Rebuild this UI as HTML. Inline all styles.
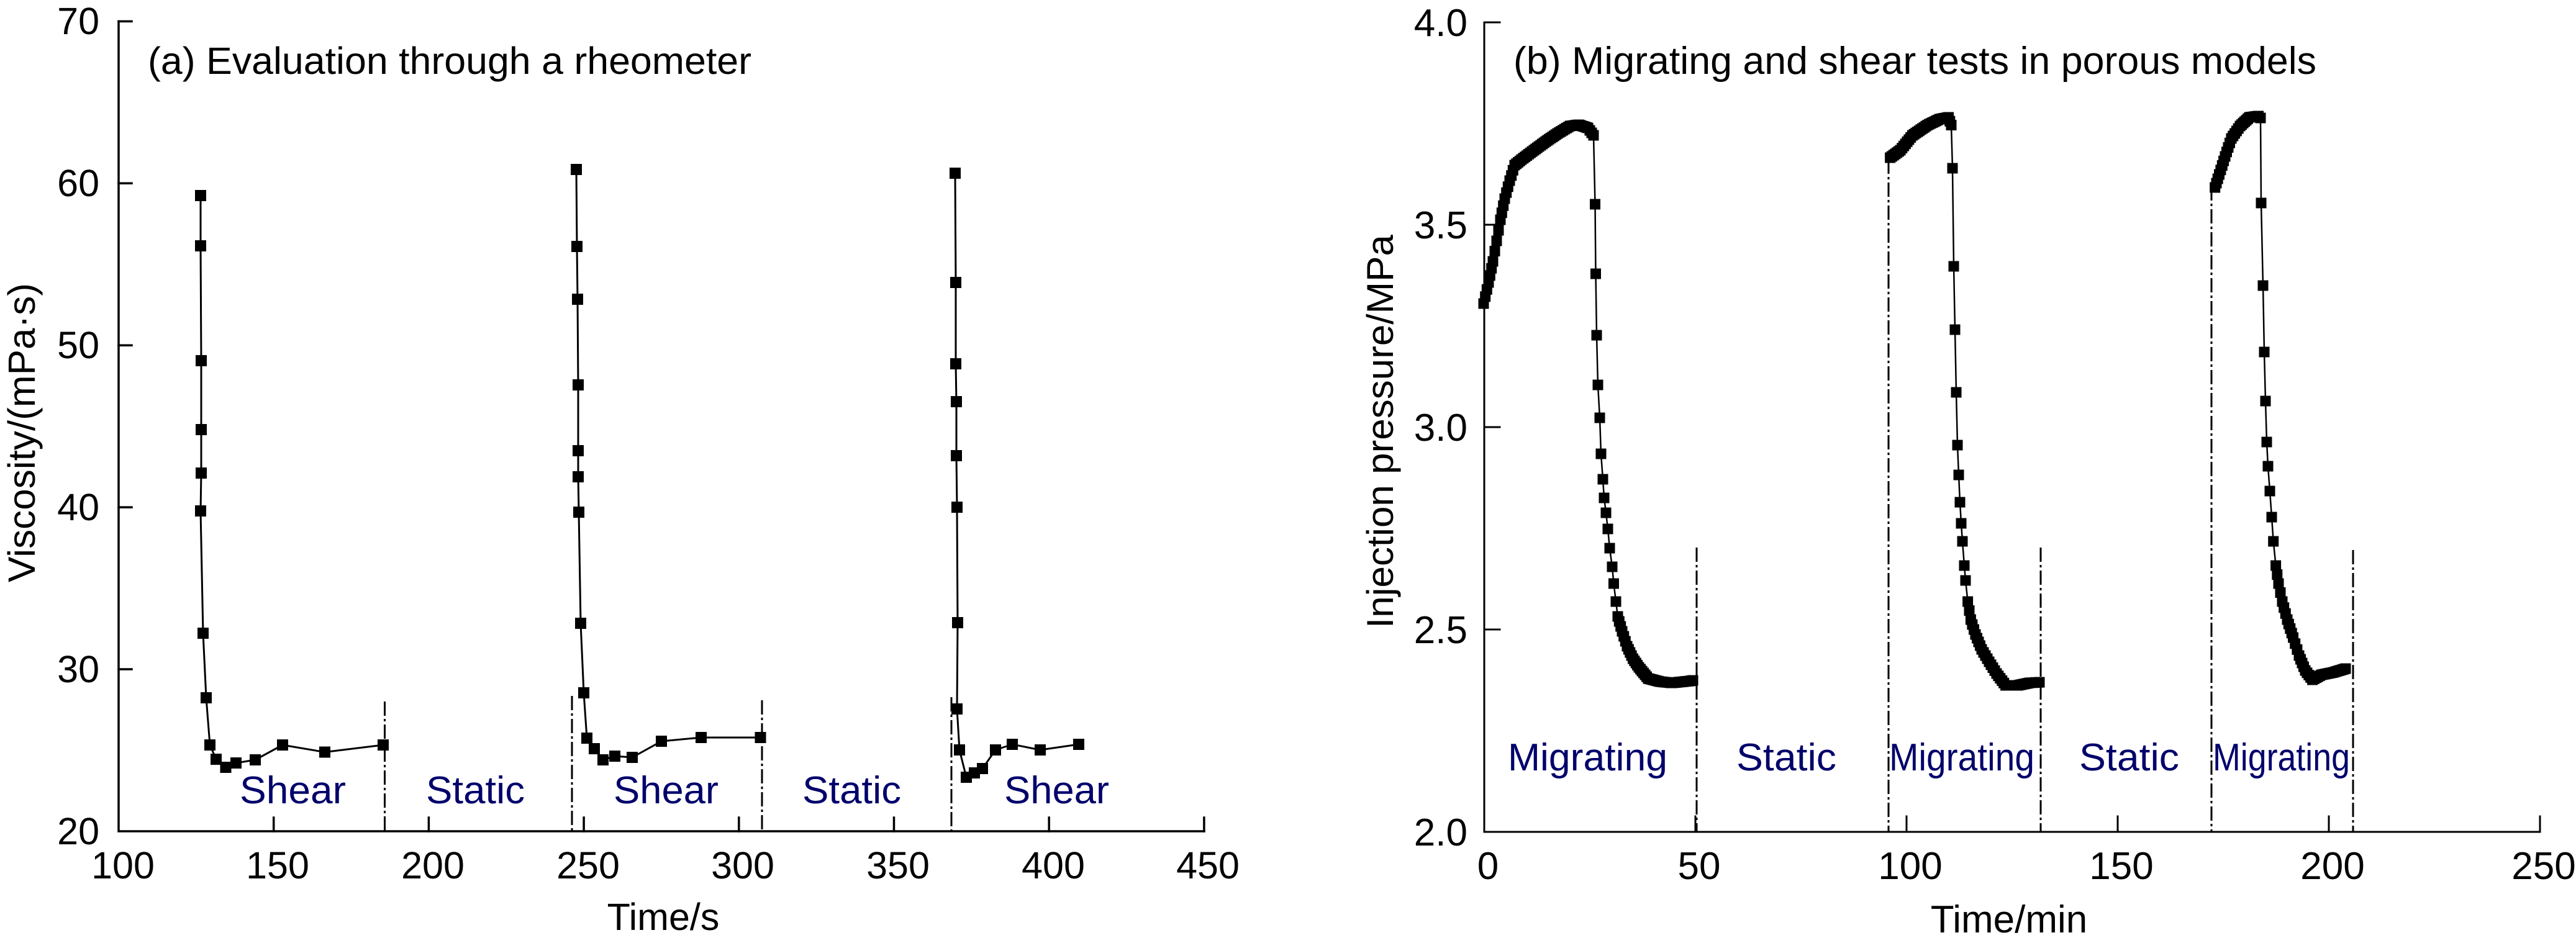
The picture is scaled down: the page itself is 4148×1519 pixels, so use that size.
<!DOCTYPE html>
<html><head><meta charset="utf-8">
<style>
html,body{margin:0;padding:0;background:#fff;overflow:hidden;}
svg{display:block;}
text{font-family:"Liberation Sans",Arial,sans-serif;fill:#000;}
.lb{fill:#00006b;}
</style></head><body>
<svg id="s" width="4148" height="1519" viewBox="0 0 4148 1519" xmlns="http://www.w3.org/2000/svg">
<rect width="4148" height="1519" fill="#fff"/>

<!-- ===== LEFT CHART ===== -->
<g stroke="#000" stroke-width="3.5" fill="none" stroke-linecap="square">
<path d="M191 34.4 V1339 H1939"/>
<path d="M191 34.4 H212 M191 295.3 H212 M191 556.2 H212 M191 817.1 H212 M191 1078 H212"/>
<path d="M440.7 1339 V1317 M690.4 1339 V1317 M940.1 1339 V1317 M1189.8 1339 V1317 M1439.5 1339 V1317 M1689.2 1339 V1317 M1938.9 1339 V1317"/>
</g>
<g stroke="#000" stroke-width="3" fill="none" stroke-dasharray="23 5 4 5">
<path d="M619.5 1130 V1339"/>
<path d="M921 1121 V1339"/>
<path d="M1227 1128 V1339"/>
<path d="M1532 1123 V1339"/>
</g>
<g font-size="61" text-anchor="end">
<text x="160" y="55">70</text>
<text x="160" y="316">60</text>
<text x="160" y="577">50</text>
<text x="160" y="838">40</text>
<text x="160" y="1099">30</text>
<text x="160" y="1360">20</text>
</g>
<g font-size="61" text-anchor="middle">
<text x="198" y="1415">100</text>
<text x="447" y="1415">150</text>
<text x="697" y="1415">200</text>
<text x="947" y="1415">250</text>
<text x="1196" y="1415">300</text>
<text x="1446" y="1415">350</text>
<text x="1696" y="1415">400</text>
<text x="1945" y="1415">450</text>
<text x="1068" y="1498">Time/s</text>
</g>
<text font-size="61" x="56" y="697" text-anchor="middle" transform="rotate(-90 56 697)" textLength="482" lengthAdjust="spacingAndGlyphs">Viscosity/(mPa·s)</text>
<text font-size="61" x="238" y="119" textLength="972" lengthAdjust="spacingAndGlyphs">(a) Evaluation through a rheometer</text>
<g font-size="62" class="lb">
<text class="lb" x="386" y="1294" textLength="171" lengthAdjust="spacingAndGlyphs">Shear</text>
<text class="lb" x="686" y="1294" textLength="159" lengthAdjust="spacingAndGlyphs">Static</text>
<text class="lb" x="988" y="1294" textLength="169" lengthAdjust="spacingAndGlyphs">Shear</text>
<text class="lb" x="1292" y="1294" textLength="159" lengthAdjust="spacingAndGlyphs">Static</text>
<text class="lb" x="1617" y="1294" textLength="169" lengthAdjust="spacingAndGlyphs">Shear</text>
</g>
<g id="L"></g>

<!-- ===== RIGHT CHART ===== -->
<g stroke="#000" stroke-width="3" fill="none" stroke-linecap="square">
<path d="M2390 36 V1340 H4090"/>
<path d="M2390 36 H2415 M2390 362 H2415 M2390 688 H2415 M2390 1014 H2415"/>
<path d="M2730 1340 V1315 M3070 1340 V1315 M3410 1340 V1315 M3750 1340 V1315 M4090 1340 V1315"/>
</g>
<g stroke="#000" stroke-width="3" fill="none" stroke-dasharray="23 5 4 5">
<path d="M2732 882 V1340"/>
<path d="M3041 257 V1340"/>
<path d="M3286 882 V1340"/>
<path d="M3561 300 V1340"/>
<path d="M3789 886 V1340"/>
</g>
<g font-size="62" text-anchor="end">
<text x="2363" y="58">4.0</text>
<text x="2363" y="384">3.5</text>
<text x="2363" y="710">3.0</text>
<text x="2363" y="1036">2.5</text>
<text x="2363" y="1362">2.0</text>
</g>
<g font-size="62" text-anchor="middle">
<text x="2396" y="1416">0</text>
<text x="2736" y="1416">50</text>
<text x="3076" y="1416">100</text>
<text x="3416" y="1416">150</text>
<text x="3756" y="1416">200</text>
<text x="4096" y="1416">250</text>
<text x="3235" y="1502">Time/min</text>
</g>
<text font-size="60" x="2243" y="695" text-anchor="middle" transform="rotate(-90 2243 695)" textLength="634" lengthAdjust="spacingAndGlyphs">Injection pressure/MPa</text>
<text font-size="62" x="2437" y="119" textLength="1293" lengthAdjust="spacingAndGlyphs">(b) Migrating and shear tests in porous models</text>
<g font-size="62">
<text class="lb" x="2428" y="1241" textLength="257" lengthAdjust="spacingAndGlyphs">Migrating</text>
<text class="lb" x="2796" y="1241" textLength="161" lengthAdjust="spacingAndGlyphs">Static</text>
<text class="lb" x="3042" y="1241" textLength="234" lengthAdjust="spacingAndGlyphs">Migrating</text>
<text class="lb" x="3348" y="1241" textLength="161" lengthAdjust="spacingAndGlyphs">Static</text>
<text class="lb" x="3563" y="1241" textLength="221" lengthAdjust="spacingAndGlyphs">Migrating</text>
</g>
<g id="R"></g>
</svg>
<script>
(function(){
const NS="http://www.w3.org/2000/svg";
function add(p,tag,a){const e=document.createElementNS(NS,tag);for(const k in a)e.setAttribute(k,a[k]);p.appendChild(e);return e;}
function series(g,pts,lw,ms,dense){
  add(g,'polyline',{points:pts.map(p=>p[0]+','+p[1]).join(' '),fill:'none',stroke:'#000','stroke-width':lw,'stroke-linejoin':'round'});
  const mk=[];
  for(let i=0;i<pts.length;i++){
    mk.push(pts[i]);
    if(dense&&i<pts.length-1){
      const x0=pts[i][0],y0=pts[i][1],x1=pts[i+1][0],y1=pts[i+1][1],dx=x1-x0;
      if(dx>4){const n=Math.round(dx/2.7);for(let k=1;k<n;k++){const f=k/n;mk.push([x0+dx*f,y0+(y1-y0)*f]);}}
    }
  }
  let d='';const h=ms/2;
  for(const p of mk){d+='M'+(p[0]-h).toFixed(1)+' '+(p[1]-h).toFixed(1)+'h'+ms+'v'+ms+'h-'+ms+'z';}
  add(g,'path',{d:d,fill:'#000'});
}
const L=document.getElementById('L'),R=document.getElementById('R');
series(L,[[323,315],[323,396],[324,581],[324,692],[324,762],[323,823],[327,1020],[332,1124],[338,1200],[348,1223],[363.5,1236],[380,1229],[411,1224],[455,1200],[523,1211.5],[617,1200]],3,18,false);
series(L,[[928,273],[929,397],[930,482],[931,620],[931,726],[931,768],[932,825],[935,1004],[940,1116],[945,1189],[957,1206],[971,1224],[990,1218],[1018,1220],[1065,1194],[1129,1188],[1224.5,1188]],3,18,false);
series(L,[[1538,279],[1539,455],[1539,586],[1540,647],[1540,734],[1541,817],[1542,1003],[1541,1142],[1545,1208],[1556,1252],[1569,1245],[1582,1238],[1603,1208],[1630,1199],[1675,1208],[1737,1199]],3,18,false);

series(R,[[2389,489],[2397,455],[2404,421],[2410,388],[2416,354],[2423,320],[2431,291],[2439,266],[2450,257],[2470,242],[2489,228],[2508,215],[2528,203],[2542,201],[2557,206],[2566,218],
[2568.5,329],[2569.5,441],[2571,540],[2573,620],[2576,673],[2578,731],[2581,772],[2583,802],[2586,826],[2589,852],[2592,883],[2596,913],[2598.5,940],[2602,969],[2605,993],[2612,1017],[2620,1041],[2629.5,1061],[2639,1075],[2654,1093],[2673,1098],[2692,1100],[2721,1097],[2726,1096]],2.5,17,true);
series(R,[[3043.6,254],[3060,242],[3079.5,218],[3103.7,201.5],[3123,192],[3137.6,189],[3142,201.5],
[3144,271],[3146,429],[3148,531],[3150,632],[3152,717],[3154,765],[3156,809],[3158,843],[3160,872],[3163,911],[3165,935],[3168.6,969],[3173.4,998],[3181,1022],[3191,1046],[3203,1066],[3215,1085],[3229.6,1104],[3249,1104],[3268,1100],[3284,1099]],2.5,17,true);
series(R,[[3566.7,302],[3573.5,281],[3583,252],[3593,223],[3607,203],[3622,189],[3636.5,187],[3640,190],
[3641,327],[3644,460],[3646,567],[3648,646],[3650,712],[3652,751],[3655,791],[3658,833],[3660.7,872],[3664.6,911],[3669,940],[3675,969],[3683,998],[3692.6,1027],[3702,1056],[3712,1080],[3723.6,1095],[3738,1087],[3757.6,1083],[3777,1077]],2.5,17,true);
})();
</script>
</body></html>
